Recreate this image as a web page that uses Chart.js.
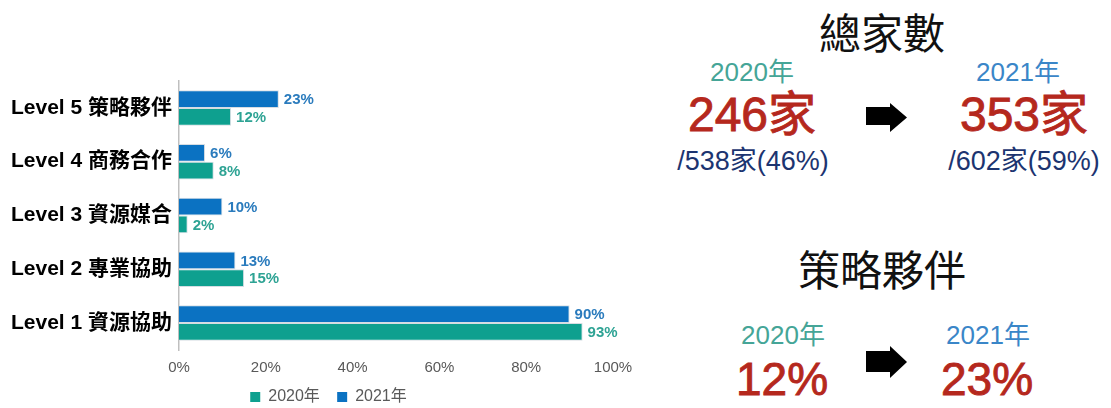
<!DOCTYPE html>
<html>
<head>
<meta charset="utf-8">
<script src="https://cdn.jsdelivr.net/npm/chart.js@4/dist/chart.umd.min.js"></script>
<style>
  html, body { margin: 0; padding: 0; background: #fff; }
  body { width: 1111px; height: 408px; position: relative; overflow: hidden; }
  #c { position: absolute; left: 0; top: 0; }
  .t { position: absolute; transform: translate(-50%, -50%); white-space: nowrap; line-height: 1;
       font-family: "Liberation Sans", "Noto Sans CJK TC", sans-serif; }
  .head { font-family: "Noto Sans CJK TC", sans-serif; font-size: 42px; color: #111; }
  .y20 { font-size: 26px; color: #45a597; }
  .y21 { font-size: 26px; color: #3a86c8; }
  .big { font-size: 48px; color: #b5281d; -webkit-text-stroke: 0.9px #b5281d; }
  .sub { font-size: 27px; color: #1c3470; }
  .arrow { position: absolute; }
</style>
</head>
<body>
<canvas id="c" width="656" height="408"></canvas>

<div class="t head" style="left:882px; top:31px;">總家數</div>
<div class="t y20" style="left:752px; top:72px;">2020年</div>
<div class="t big" style="left:752px; top:115px;">246家</div>
<div class="t sub" style="left:753px; top:161px;">/538家(46%)</div>
<div class="t y21" style="left:1018px; top:72px;">2021年</div>
<div class="t big" style="left:1024px; top:115px;">353家</div>
<div class="t sub" style="left:1024px; top:161px;">/602家(59%)</div>
<svg class="arrow" style="left:866px; top:103px;" width="42" height="30" viewBox="0 0 42 30">
  <polygon points="0,4 24,4 24,0 41,14.5 24,29 24,22 0,22" fill="#000"/>
</svg>

<div class="t head" style="left:882px; top:268px;">策略夥伴</div>
<div class="t y20" style="left:783px; top:335px;">2020年</div>
<div class="t big" style="left:782px; top:379px; font-size:46px;">12%</div>
<div class="t y21" style="left:988px; top:335px;">2021年</div>
<div class="t big" style="left:987px; top:379px; font-size:46px;">23%</div>
<svg class="arrow" style="left:866px; top:346px;" width="42" height="33" viewBox="0 0 42 33">
  <polygon points="0,5 24,5 24,0 41,16 24,32 24,26 0,26" fill="#000"/>
</svg>

<script>
const categories = ['Level 5 策略夥伴', 'Level 4 商務合作', 'Level 3 資源媒合', 'Level 2 專業協助', 'Level 1 資源協助'];
const values2021 = [23, 6, 10, 13, 90];
const values2020 = [12, 8, 2, 15, 93];
const xTickStep = 20;

// value labels at bar ends
const barValueLabels = {
  id: 'barValueLabels',
  afterDatasetsDraw(chart) {
    const ctx = chart.ctx;
    ctx.save();
    ctx.font = 'bold 15px "Liberation Sans", Arial, sans-serif';
    ctx.textBaseline = 'middle';
    ctx.textAlign = 'left';
    chart.data.datasets.forEach((ds, i) => {
      const meta = chart.getDatasetMeta(i);
      ctx.fillStyle = ds.labelColor;
      meta.data.forEach((bar, j) => {
        ctx.fillText(ds.data[j] + '%', bar.x + 5, bar.y + 1);
      });
    });
    ctx.restore();
  }
};

// legend sits centred under the whole canvas, not only the padded box
const legendShift = {
  id: 'legendShift',
  afterLayout(chart) {
    chart.legend.left += 22;
    chart.legend.right += 22;
  }
};

new Chart(document.getElementById('c'), {
  type: 'bar',
  data: {
    labels: categories,
    datasets: [
      { label: '2021年', data: values2021, backgroundColor: '#0b72c2', labelColor: '#2a7bbd',
        borderColor: '#d6dde3', borderWidth: 1 },
      { label: '2020年', data: values2020, backgroundColor: '#0ea08f', labelColor: '#2ea394',
        borderColor: '#d6dde3', borderWidth: 1 }
    ]
  },
  options: {
    indexAxis: 'y',
    responsive: false,
    animation: false,
    categoryPercentage: 0.66,
    barPercentage: 1.0,
    layout: { padding: { top: 81, right: 43, left: 0, bottom: -7 } },
    scales: {
      x: {
        min: 0,
        max: 100,
        ticks: {
          stepSize: xTickStep,
          callback: v => v + '%',
          color: '#595959',
          font: { family: '"Liberation Sans", Arial, sans-serif', size: 15 },
          padding: 9
        },
        grid: { display: false, drawTicks: false },
        border: { display: false },
        afterFit: scale => { scale.height = 35; }
      },
      y: {
        ticks: {
          color: '#000',
          font: { family: '"Liberation Sans", "Noto Sans CJK TC", sans-serif', size: 21, weight: 'bold' },
          padding: 7
        },
        grid: { display: false, drawTicks: false },
        border: { color: '#bfbfbf', width: 1.5 },
        afterFit: scale => { scale.width = 179; }
      }
    },
    plugins: {
      tooltip: { enabled: false },
      legend: {
        position: 'bottom',
        labels: {
          boxWidth: 10,
          boxHeight: 10,
          padding: 4,
          color: '#595959',
          font: { family: '"Liberation Sans", "Noto Sans CJK TC", sans-serif', size: 16 },
          generateLabels: chart => {
            const items = Chart.defaults.plugins.legend.labels.generateLabels(chart).reverse();
            items[0].text = items[0].text + '   ';
            items.forEach(it => { it.lineWidth = 0; });
            return items;
          }
        }
      }
    }
  },
  plugins: [barValueLabels, legendShift]
});
</script>
</body>
</html>
